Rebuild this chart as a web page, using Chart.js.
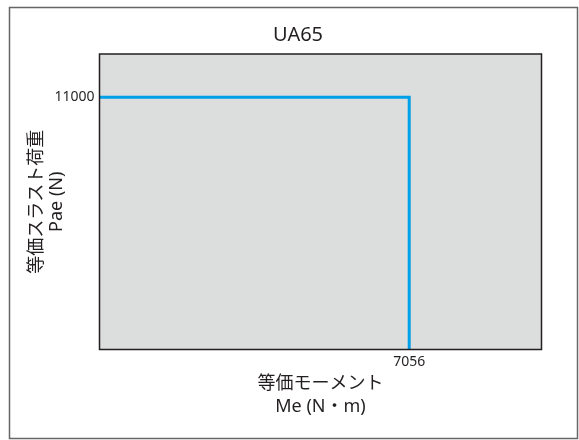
<!DOCTYPE html>
<html>
<head>
<meta charset="utf-8">
<script src="https://cdn.jsdelivr.net/npm/chart.js@4"></script>
<style>
  body { margin: 0; background: #fff; }
</style>
</head>
<body>
<canvas id="myChartUA65" width="579" height="440"></canvas>
<script>
// dados do gráfico
const chartTitle = 'UA65';
const momentValues = [0, 7056, 7056];      // Me (N·m)
const loadValues = [11000, 11000, 0];      // Pae (N)
const xTicks = [7056];
const yTicks = [11000];
const xMax = 10070;
const yMax = 12880;

const fontFamily = "'Noto Sans', 'Noto Sans CJK JP', sans-serif";

// fundo cinza + bordas
const frames = {
  id: 'frames',
  beforeDraw(chart) {
    const { ctx, chartArea } = chart;
    ctx.save();
    ctx.fillStyle = '#dcdddd';
    ctx.fillRect(chartArea.left, chartArea.top, chartArea.right - chartArea.left, chartArea.bottom - chartArea.top);
    ctx.restore();
  },
  afterDraw(chart) {
    const { ctx, chartArea } = chart;
    ctx.save();
    ctx.strokeStyle = '#231f20';
    ctx.lineWidth = 1.5;
    ctx.strokeRect(chartArea.left, chartArea.top, chartArea.right - chartArea.left, chartArea.bottom - chartArea.top);
    ctx.strokeStyle = '#666';
    ctx.lineWidth = 1.5;
    ctx.strokeRect(9.5, 7.5, 568, 431);
    ctx.restore();
  }
};

const chartUA65 = document.getElementById('myChartUA65');

new Chart(chartUA65, {
  type: 'line',
  data: {
    datasets: [{
      label: chartTitle,
      data: momentValues.map((x, i) => ({ x: x, y: loadValues[i] })),
      borderColor: '#00a0e9',
      borderWidth: 3,
      pointRadius: 0,
      tension: 0,
      fill: false
    }]
  },
  options: {
    responsive: false,
    animation: false,
    layout: { padding: { left: 17, right: 0, top: 0, bottom: 0 } },
    plugins: {
      legend: { display: false },
      tooltip: { enabled: false },
      title: {
        display: true,
        text: chartTitle,
        color: '#231f20',
        font: { family: fontFamily, size: 20, weight: 'normal', lineHeight: 1.2 },
        padding: { top: 23.5, bottom: 6.5 }
      }
    },
    scales: {
      x: {
        type: 'linear',
        min: 0,
        max: xMax,
        grid: { display: false, drawTicks: false },
        border: { display: false },
        afterBuildTicks: (scale) => { scale.ticks = xTicks.map(v => ({ value: v })); },
        afterFit: (scale) => { scale.height = 90.5; },
        ticks: {
          color: '#231f20',
          padding: 4,
          font: { family: fontFamily, size: 14 },
          callback: (v) => String(v)
        },
        title: {
          display: true,
          text: ['等価モーメント', 'Me (N・m)'],
          color: '#231f20',
          font: { family: fontFamily, size: 18, lineHeight: 1.278 },
          padding: { top: 0, bottom: 21.5 }
        }
      },
      y: {
        type: 'linear',
        min: 0,
        max: yMax,
        grid: { display: false, drawTicks: false },
        border: { display: false },
        afterBuildTicks: (scale) => { scale.ticks = yTicks.map(v => ({ value: v })); },
        afterFit: (scale) => { scale.width = 82.5; },
        ticks: {
          color: '#231f20',
          padding: 5,
          font: { family: fontFamily, size: 14 },
          callback: (v) => String(v)
        },
        title: {
          display: true,
          text: ['等価スラスト荷重', 'Pae (N)'],
          color: '#231f20',
          font: { family: fontFamily, size: 18, lineHeight: 1.13 },
          padding: { top: 9.85, bottom: 0 }
        }
      },
      // eixo vazio à direita só para reservar a margem
      yRight: {
        type: 'linear',
        position: 'right',
        grid: { display: false, drawTicks: false },
        border: { display: false },
        ticks: { display: false },
        afterFit: (scale) => { scale.width = 37.5; }
      }
    }
  },
  plugins: [frames]
});
</script>
</body>
</html>
